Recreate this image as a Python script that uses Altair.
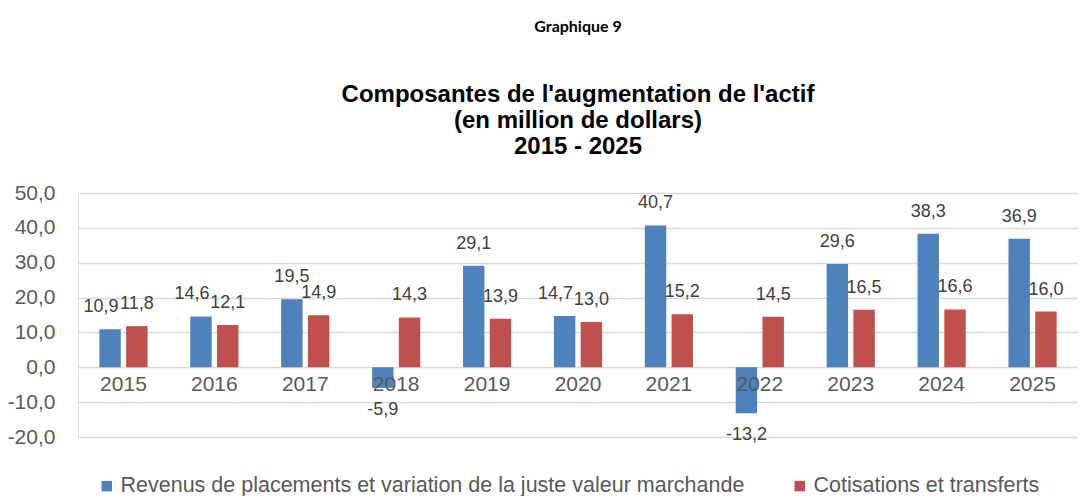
import altair as alt
import pandas as pd

years = ["2015", "2016", "2017", "2018", "2019", "2020", "2021", "2022", "2023", "2024", "2025"]
revenus = [10.9, 14.6, 19.5, -5.9, 29.1, 14.7, 40.7, -13.2, 29.6, 38.3, 36.9]
cotisations = [11.8, 12.1, 14.9, 14.3, 13.9, 13.0, 15.2, 14.5, 16.5, 16.6, 16.0]
series = ["Revenus de placements et variation de la juste valeur marchande", "Cotisations et transferts"]
colors = ["#4F81BD", "#C0504D"]
y_ticks = [-20, -10, 0, 10, 20, 30, 40, 50]

rows = []
for i, y in enumerate(years):
    for k, (s, vals) in enumerate(zip(series, [revenus, cotisations])):
        v = vals[i]
        rows.append({"annee": y, "serie": s, "valeur": v,
                     "label": f"{v:.1f}".replace(".", ","), "ordre": k})
df = pd.DataFrame(rows)

FONT = "Liberation Sans"
H = 244
zero_offset = -round(H * 20 / 70)

base = alt.Chart(df).encode(
    x=alt.X("annee:N", sort=years, title=None,
            scale=alt.Scale(paddingInner=0.47, paddingOuter=0.235),
            axis=alt.Axis(orient="bottom", offset=zero_offset, ticks=False, domain=False,
                          labelAngle=0, labelFontSize=21, labelColor="#595959",
                          labelFont=FONT, labelPadding=6, grid=False, zindex=1)),
    xOffset=alt.XOffset("serie:N", sort=series, scale=alt.Scale(paddingInner=0.2, paddingOuter=0)),
)

bars = base.mark_bar().encode(
    y=alt.Y("valeur:Q", title=None,
            scale=alt.Scale(domain=[-20, 50], nice=False, zero=False),
            axis=alt.Axis(values=y_ticks, tickCount=len(y_ticks) + 2, ticks=False, domain=False,
                          labelExpr="replace(replace(format(datum.value, '.1f'), '.', ','), '\u2212', '-')",
                          labelOverlap=False, labelFontSize=21, labelColor="#595959",
                          labelFont=FONT, labelPadding=23, gridColor="#D9D9D9", gridWidth=1.5)),
    color=alt.Color("serie:N", sort=series, title=None,
                    scale=alt.Scale(domain=series, range=colors),
                    legend=alt.Legend(orient="none", legendX=18, legendY=282, direction="horizontal",
                                      symbolType="square", symbolSize=110, symbolStrokeWidth=0,
                                      labelFontSize=21.5, labelFont=FONT, labelColor="#595959",
                                      columnPadding=44, labelLimit=800, symbolOffset=0, labelOffset=3)),
)

labels = base.transform_calculate(
    cot="datum.ordre == 1 ? datum.valeur : null"
).transform_joinaggregate(
    cotval="max(cot)", groupby=["annee"]
).transform_calculate(
    crowd="datum.ordre == 0 && datum.valeur >= 0 && abs(datum.valeur - datum.cotval) < 4 ? 1 : 0"
)

def txt(filt, dy, dx=0):
    return labels.mark_text(dy=dy, dx=dx, fontSize=18, font=FONT, color="#404040").encode(
        y=alt.Y("valeur:Q"), text="label:N"
    ).transform_filter(filt)

text_pos = txt("datum.valeur >= 0 && datum.crowd == 0", -22)
text_crowd = txt("datum.crowd == 1", -22, -9)
text_neg = txt("datum.valeur < 0", 22)

chart = alt.layer(bars, text_pos, text_crowd, text_neg).properties(
    width=1000, height=H,
    autosize=alt.AutoSizeParams(type="none"),
    padding={"left": 70, "top": 185, "right": 0, "bottom": 64},
    title=alt.TitleParams(
        text="Graphique 9",
        subtitle=["Composantes de l'augmentation de l'actif", "(en million de dollars)", "2015 - 2025"],
        anchor="middle", frame="group", font="Lato", fontSize=16, fontWeight="bold", color="#000000",
        subtitleFont=FONT, subtitleFontSize=24, subtitleFontWeight="bold", subtitleColor="#000000",
        subtitlePadding=48, subtitleLineHeight=26, offset=23),
).configure_view(stroke=None).configure(background="white")

chart.save("out.html", embed_options={"renderer": "svg", "actions": False})
